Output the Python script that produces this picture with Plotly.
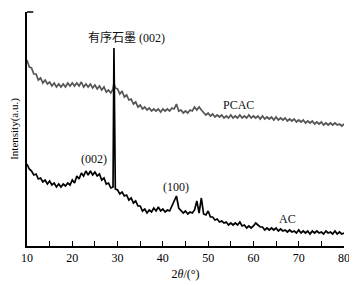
import plotly.graph_objects as go

two_theta = [
    10, 10.5, 11, 11.5, 12, 12.5, 13, 13.5, 14, 14.5, 15, 15.5, 16, 16.5, 17, 17.5, 18, 18.5, 19, 19.5,
    20, 20.5, 21, 21.5, 22, 22.5, 23, 23.5, 24, 24.5, 25, 25.5, 26, 26.5, 27, 27.5, 28, 28.5, 29, 29.2, 29.5,
    30, 30.5, 31, 31.5, 32, 32.5, 33, 33.5, 34, 34.5, 35, 35.5, 36, 36.5, 37, 37.5, 38, 38.5, 39, 39.5,
    40, 40.5, 41, 41.5, 42, 42.5, 43, 43.5, 44, 44.5, 45, 45.5, 46, 46.5, 47, 47.5, 48, 48.5, 49, 49.5,
    50, 50.5, 51, 51.5, 52, 52.5, 53, 53.5, 54, 54.5, 55, 55.5, 56, 56.5, 57, 57.5, 58, 58.5, 59, 59.5,
    60, 60.5, 61, 61.5, 62, 62.5, 63, 63.5, 64, 64.5, 65, 65.5, 66, 66.5, 67, 67.5, 68, 68.5, 69, 69.5,
    70, 70.5, 71, 71.5, 72, 72.5, 73, 73.5, 74, 74.5, 75, 75.5, 76, 76.5, 77, 77.5, 78, 78.5, 79, 79.5,
    80,
]

ac_intensity = [
    82, 77, 75, 71, 72, 67, 68, 64, 66, 62, 65, 61, 63, 59, 62, 59, 62, 60, 63, 61,
    66, 63, 70, 67, 73, 70, 75, 71, 75, 71, 74, 70, 72, 66, 68, 62, 63, 58, 59, 198, 57,
    56, 52, 54, 50, 51, 46, 48, 43, 45, 40, 40, 35, 37, 33, 36, 34, 38, 35, 39, 35,
    37, 34, 36, 35, 40, 44, 50, 38, 36, 33, 35, 32, 34, 33, 36, 45, 33, 48, 32, 31,
    35, 29, 29, 26, 27, 24, 25, 23, 24, 21, 23, 21, 23, 21, 24, 20, 21, 18, 20, 18,
    20, 23, 21, 19, 19, 16, 18, 16, 18, 16, 18, 15, 17, 15, 16, 14, 16, 14, 15, 13,
    16, 13, 15, 13, 15, 12, 15, 13, 15, 13, 14, 12, 15, 13, 14, 12, 15, 12, 14, 12,
    13,
]

pcac_intensity = [
    186, 179, 178, 172, 172, 166, 168, 163, 166, 162, 164, 160, 163, 159, 162, 159, 162, 159, 163, 160,
    163, 160, 163, 160, 164, 159, 162, 159, 162, 158, 161, 157, 160, 156, 159, 154, 156, 153, 157, 163, 158,
    157, 152, 155, 149, 151, 146, 147, 142, 144, 139, 141, 137, 139, 136, 138, 135, 137, 135, 137, 134,
    137, 135, 137, 135, 138, 137, 142, 135, 136, 133, 135, 133, 136, 135, 139, 136, 139, 136, 134, 131,
    133, 130, 132, 129, 131, 129, 131, 128, 130, 128, 131, 128, 130, 128, 131, 128, 130, 128, 131, 128,
    130, 128, 130, 127, 130, 127, 129, 127, 129, 126, 129, 126, 128, 126, 128, 125, 127, 125, 127, 124,
    126, 124, 126, 123, 125, 123, 125, 122, 124, 122, 124, 121, 123, 121, 123, 121, 123, 121, 122, 120,
    122,
]

x_tick_values = [10, 20, 30, 40, 50, 60, 70, 80]
x_tick_labels = ["10", "20", "30", "40", "50", "60", "70", "80"]

labels_text = ["有序石墨 (002)", "PCAC", "(002)", "(100)", "AC"]
labels_x = [31.9, 56.8, 24.8, 42.9, 67.6]
labels_y = [209, 141, 87, 59, 27]

FONT = "Liberation Serif, Noto Sans CJK SC"

fig = go.Figure()
fig.add_trace(go.Scatter(x=two_theta, y=pcac_intensity, mode="lines",
                         line=dict(color="#555555", width=1.7), name="PCAC"))
fig.add_trace(go.Scatter(x=two_theta, y=ac_intensity, mode="lines",
                         line=dict(color="#000000", width=1.7), name="AC"))

for t, xx, yy in zip(labels_text, labels_x, labels_y):
    fig.add_annotation(x=xx, y=yy, text=t, showarrow=False,
                       font=dict(family=FONT, size=12, color="#111111"))

fig.add_shape(type="line", xref="paper", yref="paper", x0=0, x1=0.02, y0=1, y1=1,
              line=dict(color="black", width=1.5))

# page body has an 8px default margin, so the figure is sized/margined to compensate
fig.update_layout(
    width=349, height=278,
    margin=dict(l=19, r=13, t=4, b=40),
    paper_bgcolor="white", plot_bgcolor="white",
    showlegend=False,
    font=dict(family=FONT, size=12, color="black"),
    xaxis=dict(range=[10, 80], tickvals=x_tick_values, ticktext=x_tick_labels,
               ticks="inside", ticklen=5, tickwidth=1, tickcolor="black",
               minor=dict(dtick=5, tick0=10, ticks="inside", ticklen=5, tickcolor="black"),
               showline=True, linecolor="black", linewidth=1.5,
               showgrid=False, zeroline=False, automargin=False,
               title=dict(text="2<i>θ</i>/(°)", font=dict(size=12), standoff=5),
               tickfont=dict(size=12)),
    yaxis=dict(range=[0, 234], showticklabels=False, ticks="",
               showline=True, linecolor="black", linewidth=1.5,
               showgrid=False, zeroline=False, automargin=False,
               title=dict(text="Intensity(a.u.)", font=dict(size=11), standoff=8)),
)

fig.write_html("out.html")
